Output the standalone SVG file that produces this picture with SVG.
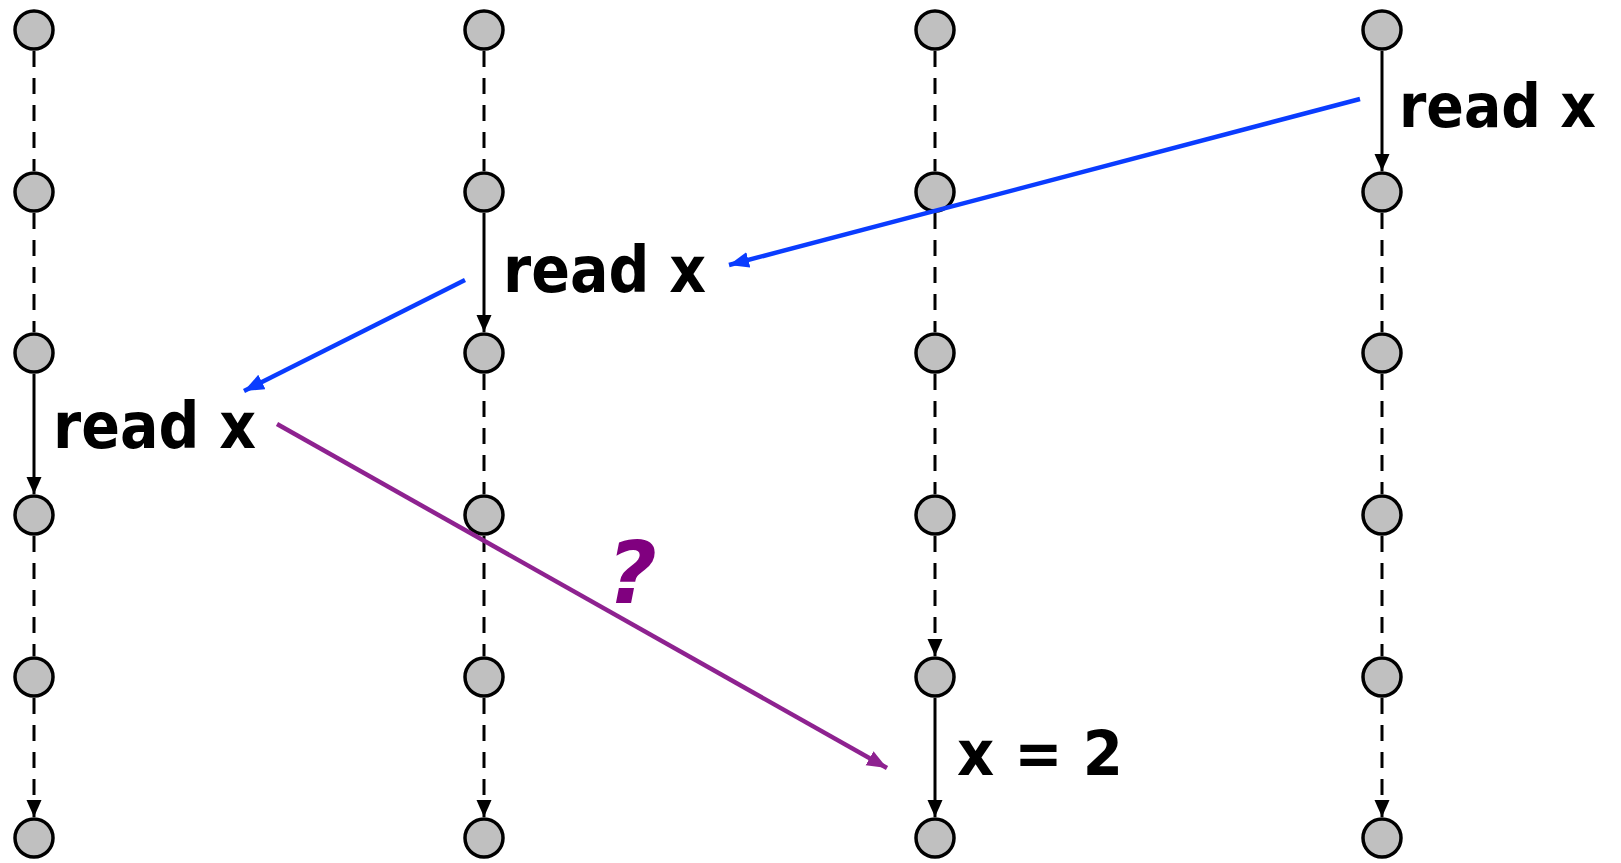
<svg xmlns="http://www.w3.org/2000/svg" width="1621" height="863" viewBox="0 0 1621 863">
<style>
.n{fill:#c0c0c0;stroke:#000;stroke-width:3.5}
.e{stroke:#000;stroke-width:3;fill:none}
.d{stroke-dasharray:16 11}
.t{font-family:"DejaVu Sans",sans-serif;font-weight:bold;fill:#000}
.b{stroke:#0a3cff;stroke-width:4.5;fill:none}
.p{stroke:#8e2290;stroke-width:4.5;fill:none}
</style>
<defs>
<marker id="ak" markerUnits="userSpaceOnUse" markerWidth="20" markerHeight="20" refX="17" refY="7.5" orient="auto"><path d="M0,0 L17,7.5 L0,15 Z" fill="#000"/></marker>
<marker id="ab" markerUnits="userSpaceOnUse" markerWidth="24" markerHeight="20" refX="20" refY="8" orient="auto"><path d="M0,0 L20,8 L0,16 Z" fill="#0a3cff"/></marker>
<marker id="ap" markerUnits="userSpaceOnUse" markerWidth="24" markerHeight="20" refX="20" refY="8" orient="auto"><path d="M0,0 L20,8 L0,16 Z" fill="#8e2290"/></marker>
</defs>
<g id="nodes">
<g id="c1"><circle class="n" cx="34" cy="30" r="19"/><circle class="n" cx="34" cy="192" r="19"/><circle class="n" cx="34" cy="353" r="19"/><circle class="n" cx="34" cy="515" r="19"/><circle class="n" cx="34" cy="677" r="19"/><circle class="n" cx="34" cy="838" r="19"/></g>
<g id="c2"><circle class="n" cx="484" cy="30" r="19"/><circle class="n" cx="484" cy="192" r="19"/><circle class="n" cx="484" cy="353" r="19"/><circle class="n" cx="484" cy="515" r="19"/><circle class="n" cx="484" cy="677" r="19"/><circle class="n" cx="484" cy="838" r="19"/></g>
<g id="c3"><circle class="n" cx="935" cy="30" r="19"/><circle class="n" cx="935" cy="192" r="19"/><circle class="n" cx="935" cy="353" r="19"/><circle class="n" cx="935" cy="515" r="19"/><circle class="n" cx="935" cy="677" r="19"/><circle class="n" cx="935" cy="838" r="19"/></g>
<g id="c4"><circle class="n" cx="1382" cy="30" r="19"/><circle class="n" cx="1382" cy="192" r="19"/><circle class="n" cx="1382" cy="353" r="19"/><circle class="n" cx="1382" cy="515" r="19"/><circle class="n" cx="1382" cy="677" r="19"/><circle class="n" cx="1382" cy="838" r="19"/></g>
</g>
<g id="connectors">
<path class="e d" marker-end="url(#ak)" d="M34,51V171M34,213V332M34,536V656M34,698V817"/>
<path class="e" marker-end="url(#ak)" d="M34,374V494"/>
<path class="e d" marker-end="url(#ak)" d="M484,51V171M484,374V494M484,536V656M484,698V817"/>
<path class="e" marker-end="url(#ak)" d="M484,213V332"/>
<path class="e d" marker-end="url(#ak)" d="M935,51V171M935,213V332M935,374V494M935,536V656"/>
<path class="e" marker-end="url(#ak)" d="M935,698V817"/>
<path class="e" marker-end="url(#ak)" d="M1382,51V171"/>
<path class="e d" marker-end="url(#ak)" d="M1382,213V332M1382,374V494M1382,536V656M1382,698V817"/>
<path class="b" marker-end="url(#ab)" d="M1360,99L729,265"/>
<path class="b" marker-end="url(#ab)" d="M465,280L244,391"/>
<path class="p" marker-end="url(#ap)" d="M277,424L887,768"/>
</g>
<g id="labels">
<text class="t" x="1399" y="127" font-size="60" textLength="197" lengthAdjust="spacingAndGlyphs">read x</text>
<text class="t" x="503" y="292" font-size="64" textLength="203" lengthAdjust="spacingAndGlyphs">read x</text>
<text class="t" x="53" y="448" font-size="64" textLength="203" lengthAdjust="spacingAndGlyphs">read x</text>
<text class="t" x="957" y="775" font-size="62" textLength="166" lengthAdjust="spacingAndGlyphs">x = 2</text>
<text class="t" x="632" y="603" font-size="86" text-anchor="middle" font-style="italic" style="fill:#80007f">?</text>
</g>
</svg>
